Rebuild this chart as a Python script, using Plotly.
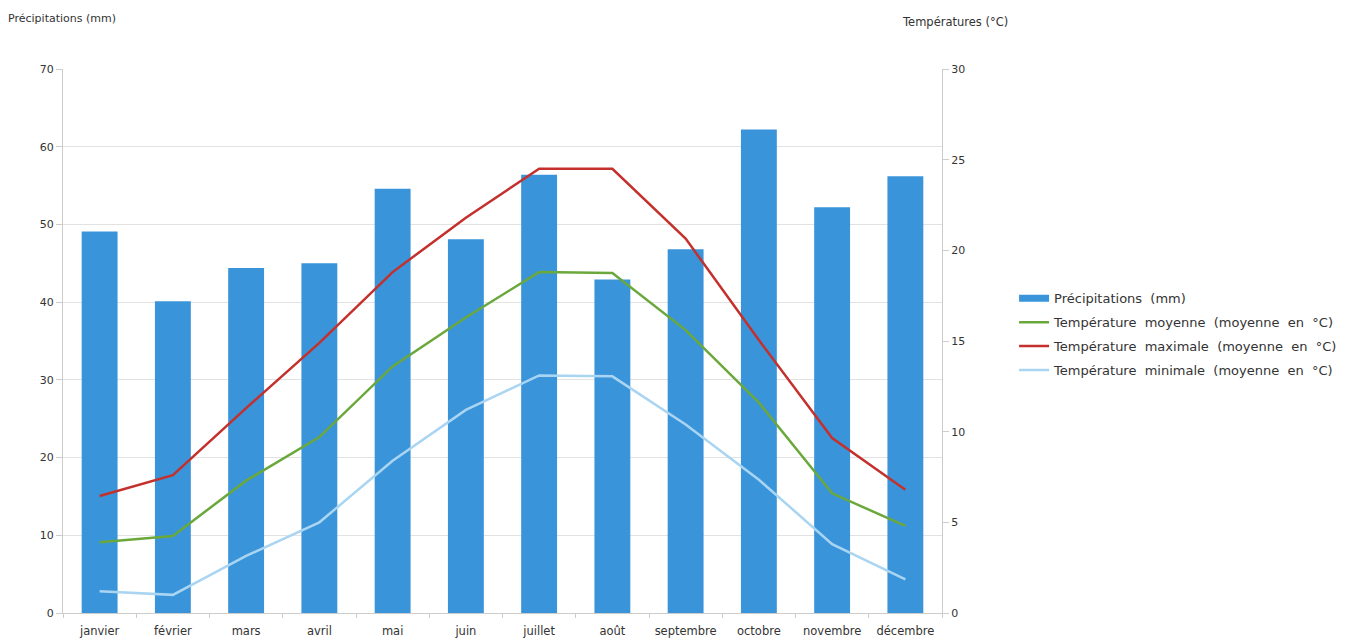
import plotly.graph_objects as go

mois = ["janvier", "février", "mars", "avril", "mai", "juin", "juillet",
        "août", "septembre", "octobre", "novembre", "décembre"]
precipitations = [49.1, 40.1, 44.4, 45.0, 54.6, 48.1, 56.4, 42.9, 46.8, 62.2, 52.2, 56.2]
temp_moyenne = [3.9, 4.25, 7.3, 9.7, 13.6, 16.3, 18.8, 18.75, 15.6, 11.6, 6.6, 4.8]
temp_max = [6.45, 7.6, 11.3, 14.9, 18.8, 21.8, 24.5, 24.5, 20.65, 15.05, 9.65, 6.8]
temp_min = [1.2, 1.0, 3.15, 5.0, 8.4, 11.2, 13.1, 13.05, 10.4, 7.35, 3.8, 1.85]

font_family = "DejaVu Sans, Verdana, sans-serif"
text_color = "#333333"
bar_color = "#3a94da"

fig = go.Figure()
fig.add_trace(go.Bar(x=mois, y=precipitations, name="Précipitations (mm)",
                     marker=dict(color=bar_color, line=dict(width=0)), width=0.49,
                     showlegend=False, legendgroup="p"))
# legend entry drawn as a wide bar swatch
fig.add_trace(go.Scatter(x=[mois[0]], y=[None], name="Précipitations  (mm)", mode="lines",
                         line=dict(color=bar_color, width=7), legendgroup="p"))
fig.add_trace(go.Scatter(x=mois, y=temp_moyenne, name="Température  moyenne  (moyenne  en  °C)",
                         mode="lines", line=dict(color="#6aa83c", width=2.5), yaxis="y2",
                         legendgroup="m"))
fig.add_trace(go.Scatter(x=mois, y=temp_max, name="Température  maximale  (moyenne  en  °C)",
                         mode="lines", line=dict(color="#c4302c", width=2.5), yaxis="y2",
                         legendgroup="x"))
fig.add_trace(go.Scatter(x=mois, y=temp_min, name="Température  minimale  (moyenne  en  °C)",
                         mode="lines", line=dict(color="#a9d5f2", width=2.5), yaxis="y2",
                         legendgroup="n"))

fig.update_layout(
    width=1350, height=643,
    margin=dict(l=55, r=416, t=61, b=38, autoexpand=False),
    paper_bgcolor="white", plot_bgcolor="white",
    font=dict(family=font_family, size=11, color=text_color),
    xaxis=dict(type="category", showgrid=False, showline=True, linecolor="#cccccc",
               ticks="outside", tickson="boundaries", ticklen=4, tickcolor="#cccccc",
               ticklabelstandoff=7,
               tickfont=dict(size=11.5, color=text_color)),
    yaxis=dict(range=[0, 70], dtick=10, showgrid=True, gridcolor="#e2e2e2",
               showline=True, linecolor="#cccccc", ticks="outside", ticklen=6,
               tickcolor="#cccccc", zeroline=False, tickfont=dict(size=11, color=text_color)),
    yaxis2=dict(range=[0, 30], dtick=5, overlaying="y", side="right", showgrid=False,
                showline=True, linecolor="#cccccc", ticks="outside", ticklen=6,
                tickcolor="#cccccc", zeroline=False, tickfont=dict(size=11, color=text_color)),
    legend=dict(x=1.082, y=0.606, xanchor="left", yanchor="top",
                font=dict(size=13, color=text_color), bgcolor="rgba(0,0,0,0)",
                tracegroupgap=4, itemwidth=30, traceorder="grouped"),
    showlegend=True,
    annotations=[
        dict(text="Précipitations (mm)", xref="paper", yref="paper", x=-0.065, y=1.092,
             xanchor="left", yanchor="middle", showarrow=False,
             font=dict(size=11, color=text_color)),
        dict(text="Températures (°C)", xref="paper", yref="paper", x=1.077, y=1.086,
             xanchor="right", yanchor="middle", showarrow=False,
             font=dict(size=11.5, color=text_color)),
    ],
)

fig.write_html("out.html")
